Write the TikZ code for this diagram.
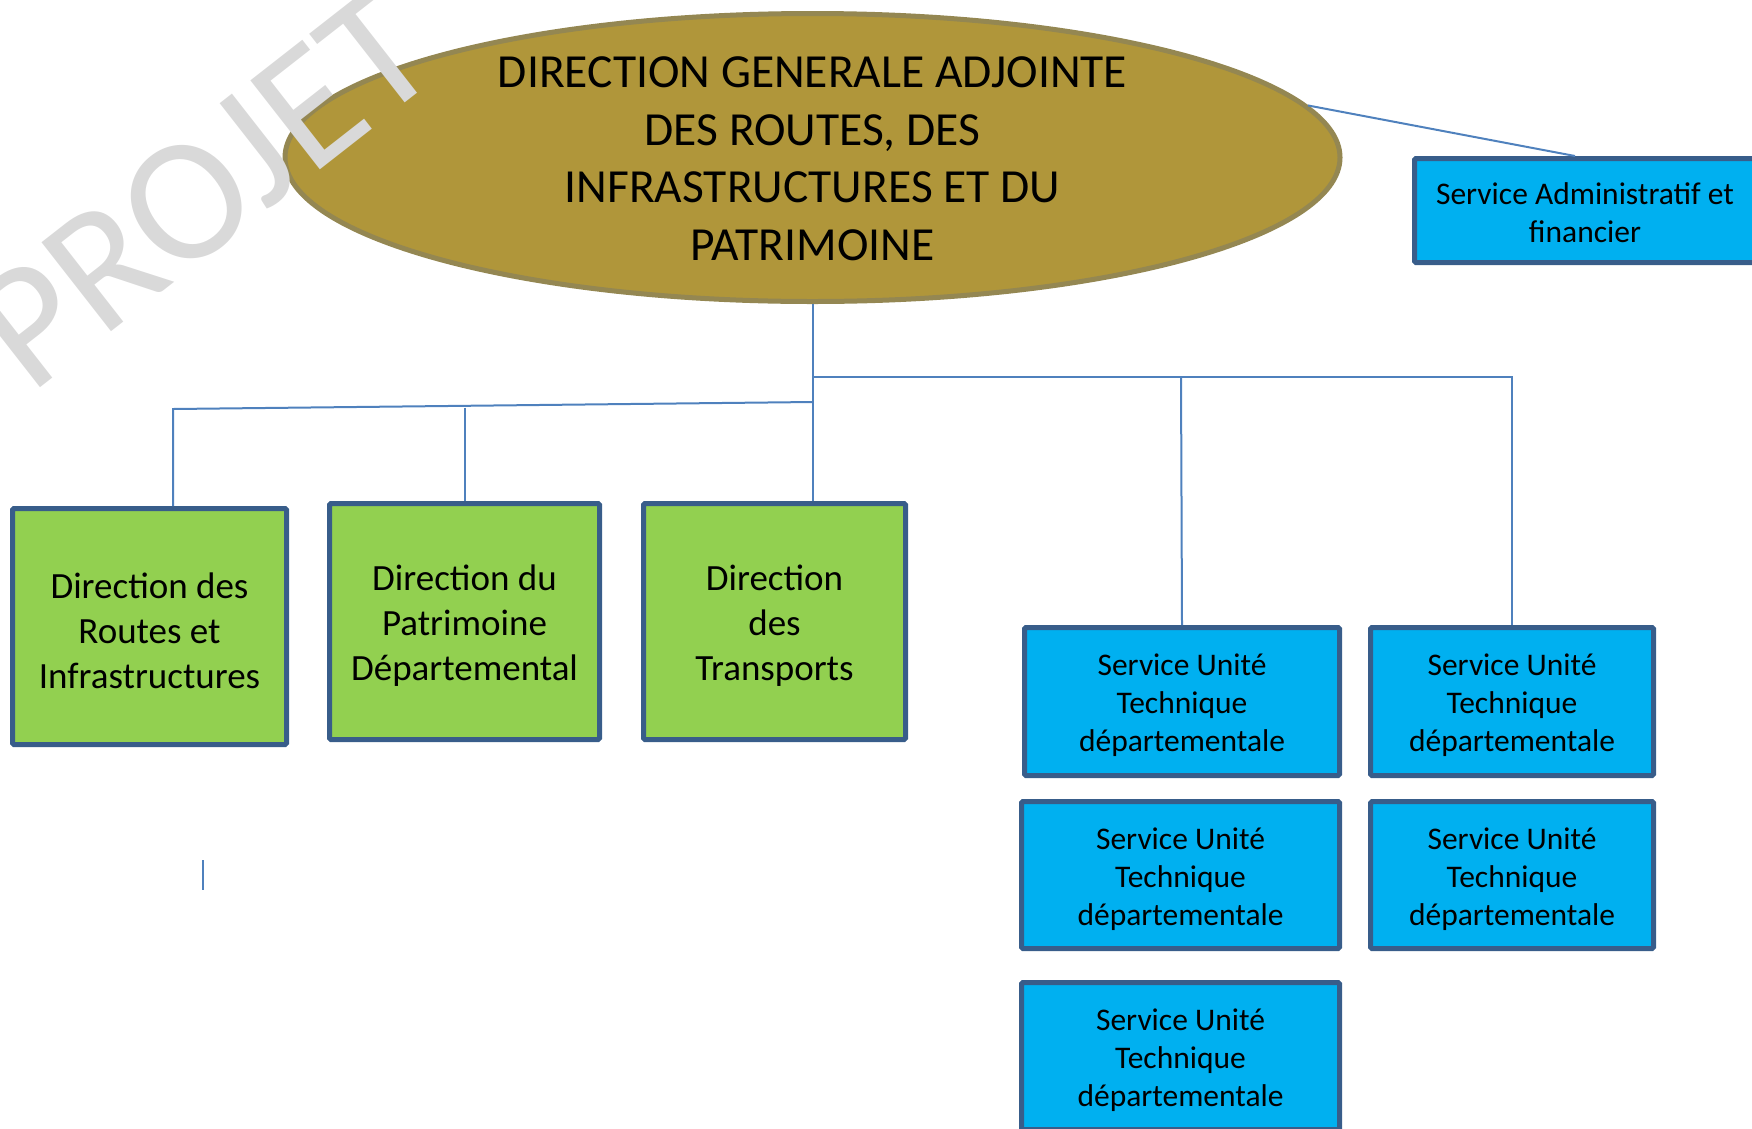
\documentclass[tikz,border=0pt]{standalone}
\usepackage{fontspec}
\setmainfont{Carlito}
\usetikzlibrary{shapes.geometric}
\definecolor{ellfill}{HTML}{B0963A}
\definecolor{elldraw}{HTML}{948752}
\definecolor{greenfill}{HTML}{92D050}
\definecolor{bluefill}{HTML}{00B0F0}
\definecolor{boxdraw}{HTML}{385D8A}
\definecolor{connblue}{HTML}{4F81BD}
\definecolor{wmgray}{HTML}{D9D9D9}
\newcommand\greentop{\rule{0pt}{34pt}}
\newcommand\bluetop{\rule{0pt}{30pt}}
\newcommand\saftop{\rule{0pt}{26pt}}
\begin{document}
\begin{tikzpicture}[x=1pt,y=-1pt,
  ellshape/.style={ellipse, draw=elldraw, fill=ellfill, line width=5pt, minimum width=1055pt, minimum height=288pt, inner sep=0pt},
  elltext/.style={align=center, font=\fontsize{47.5}{57.5}\selectfont, inner sep=0pt},
  boxbase/.style={rectangle, draw=boxdraw, line width=5pt, rounded corners=1.5pt, align=center, inner sep=0pt},
  greenbox/.style={boxbase, fill=greenfill, font=\fontsize{37}{44.7}\selectfont, minimum height=236pt},
  bluebox/.style={boxbase, fill=bluefill, font=\fontsize{31.5}{38}\selectfont},
  conn/.style={draw=connblue, line width=2pt},
  watermark/.style={text=wmgray, font=\fontsize{176}{176}\selectfont, inner sep=0pt, anchor=base west, rotate=38}
]
\useasboundingbox (0,0) rectangle (1752,1128);
\clip (0,0) rectangle (1752,1128);

% coordinates of connector junctions
\coordinate (jL) at (812.5,402);
\coordinate (bL1) at (173,409);
\coordinate (bL2) at (465,407.5);
\coordinate (jR) at (812.5,376.5);
\coordinate (bR1) at (1181,376.5);
\coordinate (bR2) at (1512,376.5);
\coordinate (m1) at (203,860);
\coordinate (m2) at (203,890);

% head ellipse
\node[ellshape] (ell) at (812.5,157.5) {};
\node[elltext] (elltxt) at (812.5,158.5) {DIRECTION GENERALE ADJOINTE\\DES ROUTES, DES\\INFRASTRUCTURES ET DU\\PATRIMOINE};

% service administratif
\node[bluebox, minimum width=341pt, minimum height=104pt] (saf) at (1585,210.5) {\saftop Service Administratif et\\financier};

% green directions
\node[greenbox, minimum width=274pt] (g1) at (149.5,626.5) {\greentop Direction des\\Routes et\\Infrastructures};
\node[greenbox, minimum width=270pt] (g2) at (464.5,621.5) {\greentop Direction du\\Patrimoine\\Départemental};
\node[greenbox, minimum width=262pt] (g3) at (774.5,621.5) {\greentop Direction\\des\\Transports};

% blue service units
\node[bluebox, minimum width=315pt, minimum height=148pt] (a1) at (1182,701.5) {\bluetop Service Unité\\Technique\\départementale};
\node[bluebox, minimum width=283pt, minimum height=148pt] (b1) at (1512,701.5) {\bluetop Service Unité\\Technique\\départementale};
\node[bluebox, minimum width=318pt, minimum height=147pt] (c1) at (1180.5,875) {\bluetop Service Unité\\Technique\\départementale};
\node[bluebox, minimum width=283pt, minimum height=147pt] (d1) at (1512,875) {\bluetop Service Unité\\Technique\\départementale};
\node[bluebox, minimum width=318pt, minimum height=147pt] (e1) at (1180.5,1056) {\bluetop Service Unité\\Technique\\départementale};

% connectors
\draw[conn] (ell.6.5) -- ([xshift=-10pt]saf.north);
\draw[conn] (ell.south) -- (ell.south |- g3.north);
\draw[conn] (jL) -- (bL1) -- (bL1 |- g1.north);
\draw[conn] (bL2) -- (bL2 |- g2.north);
\draw[conn] (jR) -- (bR2) -- (bR2 |- b1.north);
\draw[conn] (bR1) -- (a1.north);
\draw[conn] (m1) -- (m2);

% watermark
\node[watermark] (wm) at (30,396) {PROJET};
\end{tikzpicture}
\end{document}
